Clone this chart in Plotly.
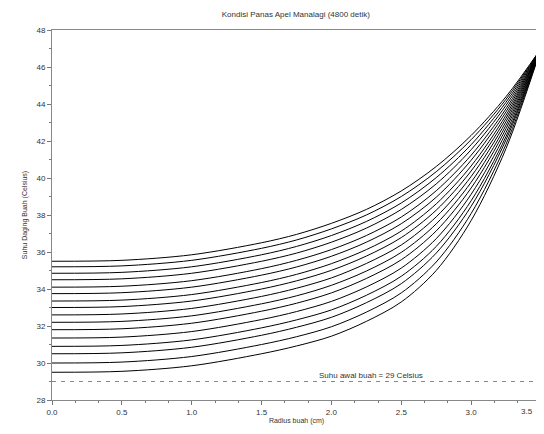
import plotly.graph_objects as go

radius = [0.0, 0.5, 1.0, 1.5, 1.75, 2.0, 2.25, 2.5, 2.75, 3.0, 3.25, 3.5]

# Temperature profiles (Celsius), top curve first
profiles = [
    [35.5, 35.55, 35.85, 36.5, 36.95, 37.55, 38.3, 39.3, 40.62, 42.3, 44.4, 47],
    [35.2, 35.25, 35.55, 36.2, 36.65, 37.25, 38.0, 39.0, 40.34, 42.07, 44.26, 47],
    [34.85, 34.9, 35.2, 35.85, 36.3, 36.89, 37.65, 38.65, 40.02, 41.8, 44.1, 47],
    [34.5, 34.55, 34.85, 35.5, 35.94, 36.53, 37.29, 38.3, 39.68, 41.53, 43.93, 47],
    [34.1, 34.15, 34.45, 35.1, 35.55, 36.13, 36.89, 37.89, 39.31, 41.23, 43.75, 47],
    [33.75, 33.8, 34.1, 34.75, 35.19, 35.77, 36.53, 37.53, 38.96, 40.96, 43.58, 47],
    [33.35, 33.4, 33.7, 34.35, 34.79, 35.37, 36.13, 37.13, 38.6, 40.65, 43.4, 47],
    [33.0, 33.05, 33.35, 34.0, 34.44, 35.01, 35.78, 36.78, 38.26, 40.38, 43.23, 47],
    [32.6, 32.65, 32.95, 33.6, 34.04, 34.6, 35.38, 36.38, 37.9, 40.08, 43.05, 47],
    [32.2, 32.25, 32.55, 33.2, 33.63, 34.2, 34.97, 35.98, 37.52, 39.77, 42.86, 47],
    [31.8, 31.85, 32.15, 32.8, 33.23, 33.79, 34.57, 35.58, 37.14, 39.46, 42.67, 47],
    [31.35, 31.4, 31.7, 32.35, 32.78, 33.33, 34.11, 35.13, 36.72, 39.12, 42.46, 47],
    [30.9, 30.95, 31.25, 31.9, 32.33, 32.87, 33.66, 34.69, 36.3, 38.77, 42.25, 47],
    [30.5, 30.55, 30.85, 31.5, 31.93, 32.47, 33.26, 34.29, 35.94, 38.47, 42.07, 47],
    [30.0, 30.05, 30.35, 31.0, 31.42, 31.96, 32.75, 33.79, 35.46, 38.08, 41.83, 47],
    [29.5, 29.55, 29.85, 30.5, 30.92, 31.45, 32.25, 33.3, 35.0, 37.7, 41.6, 47],
]

initial_temp = 29
initial_label = "Suhu awal buah = 29 Celsius"
x_ticks = [0.0, 0.5, 1.0, 1.5, 2.0, 2.5, 3.0, 3.5]
x_tick_text = ["0.0", "0.5", "1.0", "1.5", "2.0", "2.5", "3.0", "3.5"]
y_ticks = [28, 30, 32, 34, 36, 38, 40, 42, 44, 46, 48]

FONT = "Liberation Sans, Arial, sans-serif"

fig = go.Figure()
for prof in profiles:
    fig.add_trace(go.Scatter(x=radius, y=prof, mode="lines",
                             line=dict(color="black", width=1, shape="spline", smoothing=0.9),
                             showlegend=False, hoverinfo="skip"))

fig.add_trace(go.Scatter(x=[radius[0], radius[-1]], y=[initial_temp, initial_temp], mode="lines",
                         line=dict(color="#888888", width=1, dash="4px,5px"),
                         showlegend=False, hoverinfo="skip"))

fig.add_annotation(x=2.28, y=initial_temp, text=initial_label, showarrow=False,
                   yanchor="bottom", yshift=0,
                   font=dict(family=FONT, size=8, color="#333333"))

axis_font = dict(family=FONT, size=8, color="#333333")

# last x tick label sits at the figure edge; anchor it so it stays fully visible
fig.add_annotation(x=x_ticks[-1], xref="x", y=0, yref="paper", yanchor="top", yshift=-5,
                   xanchor="right", xshift=-6,
                   text=x_tick_text[-1], showarrow=False, font=axis_font)

fig.update_layout(
    width=536, height=418,
    margin=dict(l=44, r=3, t=22, b=26, autoexpand=False),
    paper_bgcolor="white", plot_bgcolor="white",
    title=dict(text="Kondisi Panas Apel Manalagi (4800 detik)", x=0.537, xanchor="center",
               y=0.986, yanchor="middle",
               font=dict(family=FONT, size=8, color="#333333")),
    xaxis=dict(range=[0, 3.5], tickvals=x_ticks[:-1], ticktext=x_tick_text[:-1], ticks="outside",
               ticklen=4, tickcolor="#777777", showline=True, linecolor="#888888", mirror=True,
               showgrid=False, zeroline=False, tickfont=axis_font, automargin=False,
               minor=dict(dtick=0.5 / 3, ticks="outside", ticklen=2, tickcolor="#777777"),
               title=dict(text="Radius buah (cm)", font=dict(family=FONT, size=7, color="#333333"), standoff=2)),
    yaxis=dict(range=[28, 48], tickvals=y_ticks, ticks="outside",
               ticklen=4, tickcolor="#777777", showline=True, linecolor="#888888", mirror=True,
               showgrid=False, zeroline=False, tickfont=axis_font, automargin=False,
               minor=dict(dtick=1, ticks="outside", ticklen=2, tickcolor="#777777"),
               title=dict(text="Suhu Daging Buah (Celsius)", font=dict(family=FONT, size=7, color="#333333"), standoff=8)),
)

fig.write_html("out.html")
